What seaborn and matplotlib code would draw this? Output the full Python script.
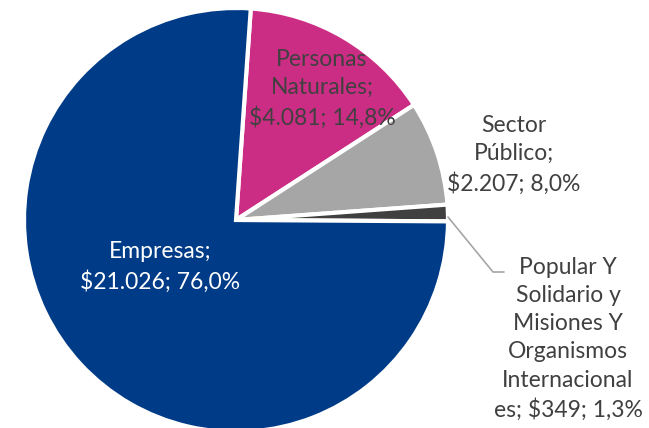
"""Distribución de cartera por segmento: gráfico de torta."""
import matplotlib.pyplot as plt
import seaborn as sns

sns.set_style("white")
plt.rcParams["font.family"] = ["Lato", "DejaVu Sans"]

segmentos = ["Personas\nNaturales", "Sector\nPúblico",
             "Popular Y\nSolidario y\nMisiones Y\nOrganismos\nInternacional\nes", "Empresas"]
montos = [4081, 2207, 349, 21026]
porcentajes = ["14,8%", "8,0%", "1,3%", "76,0%"]
montos_txt = ["$4.081", "$2.207", "$349", "$21.026"]
colores = ["#CC2D84", "#A6A6A6", "#404040", "#003B87"]

W, H = 649, 428
fig = plt.figure(figsize=(W / 100, H / 100), dpi=100)
ax = fig.add_axes([0, 0, 1, 1])

cx, cy, r = 236, H - 220, 212
ax.pie(montos, colors=colores, startangle=86, counterclock=False,
       center=(cx, cy), radius=r, frame=True,
       wedgeprops=dict(edgecolor="white", linewidth=3))

gris = "#404040"
etiquetas = [f"{s};\n{m}; {p}" if i != 2 else f"{s}; {m}; {p}"
             for i, (s, m, p) in enumerate(zip(segmentos, montos_txt, porcentajes))]

# posiciones de las etiquetas (px, origen arriba-izquierda)
pos = [(322, 89), (514, 155), (568, 339), (160, 267)]
col_txt = [gris, gris, gris, "white"]
for txt, (x, y), c in zip(etiquetas, pos, col_txt):
    ax.text(x, H - y, txt, ha="center", va="center", fontsize=16.5,
            color=c, linespacing=1.42)

# línea guía para la etiqueta pequeña
ax.plot([448, 493, 504], [H - 217, H - 272, H - 272], color="#A6A6A6", lw=1.2)

ax.set_xlim(0, W)
ax.set_ylim(0, H)
ax.set_aspect("equal")
ax.axis("off")
fig.savefig("out.png", dpi=100)
